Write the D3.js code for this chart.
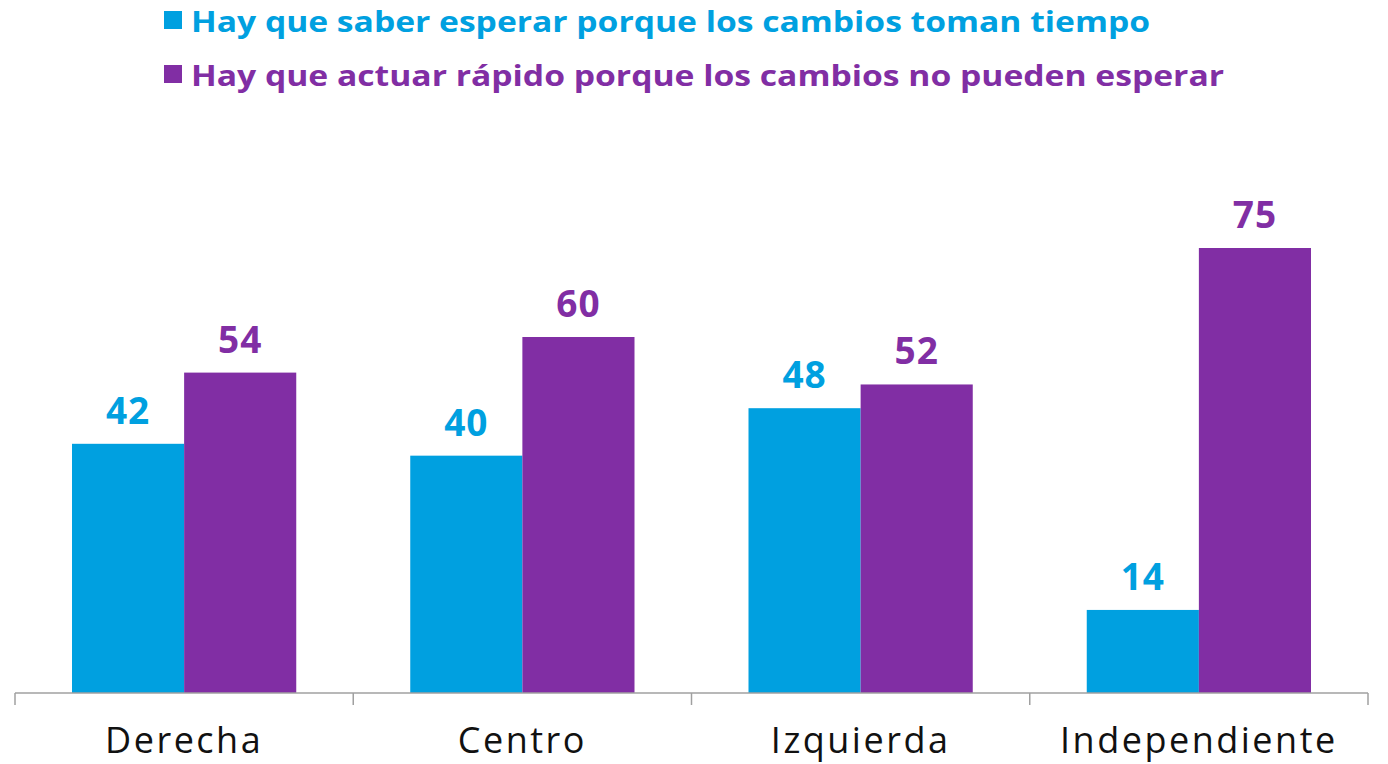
<!DOCTYPE html>
<html>
<head>
<meta charset="utf-8">
<script src="https://cdn.jsdelivr.net/npm/d3@7"></script>
<style>
  body { margin: 0; background: #fff; }
  svg { display: block; font-family: "Open Sans", sans-serif; }
</style>
</head>
<body>
<svg id="chart" width="1388" height="764"></svg>
<script>
const categories = ['Derecha', 'Centro', 'Izquierda', 'Independiente'];
const seriesNames = [
  'Hay que saber esperar porque los cambios toman tiempo',
  'Hay que actuar rápido porque los cambios no pueden esperar'
];
const esperar = [42, 40, 48, 14];
const actuar = [54, 60, 52, 75];
const colors = ['#00a0e0', '#812ea4'];

const svg = d3.select('#chart');
const baseY = 693;

const x = d3.scaleBand().domain(categories).range([15, 1368]).paddingInner(0).paddingOuter(0);
const inner = d3.scaleBand().domain([0, 1]).range([57, x.bandwidth() - 57]);
const y = d3.scaleLinear().domain([0, 75]).range([baseY, 248]);

const rows = categories.map((c, i) => ({ cat: c, vals: [esperar[i], actuar[i]] }));

const groups = svg.selectAll('g.cat').data(rows).enter().append('g')
  .attr('class', 'cat')
  .attr('transform', d => `translate(${x(d.cat)},0)`);

groups.selectAll('rect').data(d => d.vals).enter().append('rect')
  .attr('x', (d, i) => inner(i))
  .attr('width', inner.bandwidth())
  .attr('y', d => y(d))
  .attr('height', d => baseY - y(d))
  .attr('fill', (d, i) => colors[i]);

groups.selectAll('text.val').data(d => d.vals).enter().append('text')
  .attr('class', 'val')
  .attr('x', (d, i) => inner(i) + inner.bandwidth() / 2)
  .attr('y', d => y(d) - 20)
  .attr('text-anchor', 'middle')
  .attr('font-size', 37)
  .attr('font-weight', 700)
  .attr('letter-spacing', 1)
  .attr('fill', (d, i) => colors[i])
  .text(d => d);

// axis
const axis = svg.append('g').attr('transform', `translate(0,${baseY})`)
  .call(d3.axisBottom(x).tickSize(0).tickFormat(''));
axis.select('.domain').remove();
axis.append('line').attr('x1', 15).attr('x2', 1368).attr('stroke', '#a0a0a0').attr('stroke-width', 1.5);
axis.selectAll('line.sep').data(d3.range(categories.length + 1)).enter().append('line')
  .attr('class', 'sep')
  .attr('x1', i => 15 + i * x.bandwidth()).attr('x2', i => 15 + i * x.bandwidth())
  .attr('y1', 0).attr('y2', 12)
  .attr('stroke', '#a0a0a0').attr('stroke-width', 1.5);

svg.selectAll('text.cat').data(categories).enter().append('text')
  .attr('class', 'cat')
  .attr('x', d => x(d) + x.bandwidth() / 2)
  .attr('y', 753)
  .attr('text-anchor', 'middle')
  .attr('font-size', 36)
  .attr('letter-spacing', 2.5)
  .attr('fill', '#111')
  .text(d => d);

// legend
const legendWidths = [959, 1033];
const legend = svg.selectAll('g.leg').data(seriesNames).enter().append('g')
  .attr('class', 'leg')
  .attr('transform', (d, i) => `translate(164,${11 + i * 54})`);
legend.append('rect').attr('width', 18).attr('height', 18).attr('fill', (d, i) => colors[i]);
legend.append('text')
  .attr('x', 27).attr('y', 21)
  .attr('font-size', 28).attr('font-weight', 700)
  .attr('fill', (d, i) => colors[i])
  .attr('textLength', (d, i) => legendWidths[i])
  .attr('lengthAdjust', 'spacingAndGlyphs')
  .text(d => d);
</script>
</body>
</html>
